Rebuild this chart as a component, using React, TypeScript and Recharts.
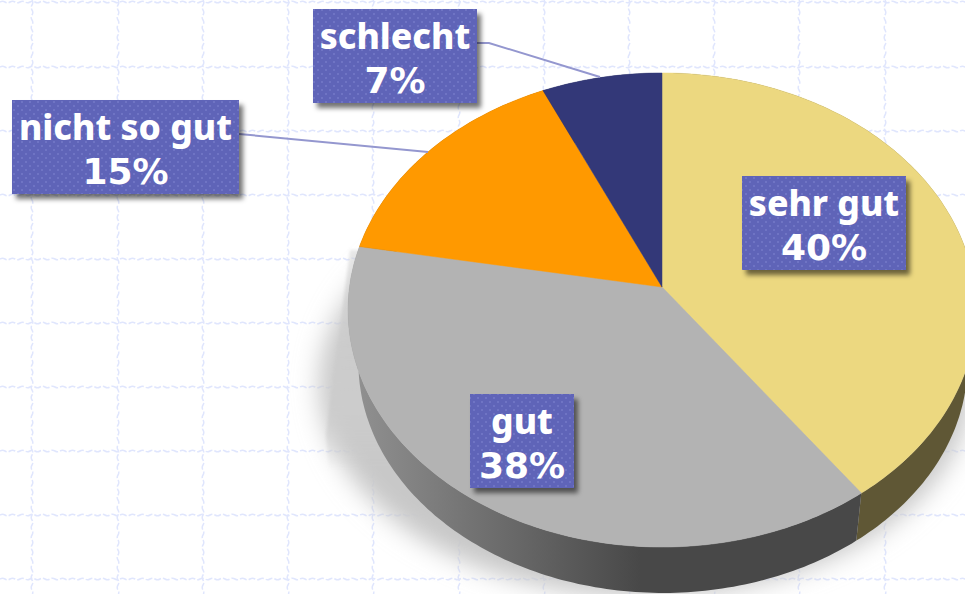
import React from 'react';
import { PieChart, Pie } from 'recharts';

const categories = ['sehr gut', 'gut', 'nicht so gut', 'schlecht'];
const values = [40, 37.8, 15.4, 6.8];
const topColors = ['#ECD880', '#B3B3B3', '#FF9900', '#333878'];
const wallColors = ['#5F5735', 'url(#greyWall)', '#8a5300', '#1c1f44'];

// label boxes [x, y, w, h], in the same order as the categories
const labelBoxes = [
  [742, 176, 164, 94],
  [470, 394, 104, 94],
  [12, 100, 227, 94],
  [313, 9, 164, 94],
];
const leaderLines: Record<number, string> = {
  2: '239,134 428,152',
  3: '477,43 489,43 600,77',
};

const gridX = [32, 118, 203, 288, 373, 459, 544, 629, 714, 799, 885];
const gridY = [2, 67, 131, 195, 259, 323, 387, 451, 515, 579];

const chartData = categories.map((name, i) => ({ name, value: values[i] }));

// the pie lies tilted: project a point of the circle onto the screen
const tilt = 0.097;
const project = (deg: number, apexX: number, apexY: number, scale: number) => {
  const t = ((90 - deg) * Math.PI) / 180;
  const d = 1 + tilt * Math.cos(t);
  return [apexX + (scale * 312.5 * Math.sin(t)) / d, apexY - (scale * 234.8 * Math.cos(t)) / d];
};

const arcPoints = (start: number, end: number, apexX: number, apexY: number, scale: number) => {
  const n = Math.max(2, Math.ceil(Math.abs(start - end)));
  const pts: number[][] = [];
  for (let i = 0; i <= n; i++) pts.push(project(start + ((end - start) * i) / n, apexX, apexY, scale));
  return pts;
};

const toPath = (pts: number[][]) => 'M' + pts.map((p) => p[0].toFixed(1) + ',' + p[1].toFixed(1)).join('L') + 'Z';

// slightly wavy grid line, the background paper has hand drawn looking rules
const wavy = (len: number) => {
  let d = 'M0,0';
  for (let p = 0; p < len; p += 10) d += 'q2.5,-1.6 5,0q2.5,1.6 5,0';
  return d;
};

const TopFace = (props: any) => {
  const fill = topColors[props.index];
  const pts = [[662, 287], ...arcPoints(props.startAngle, props.endAngle, 662, 287, 1)];
  return <path d={toPath(pts)} fill={fill} stroke={fill} strokeWidth={0.5} />;
};

const WallFace = (props: any) => {
  const top = arcPoints(props.startAngle, props.endAngle, 662, 287, 1);
  const bottom = arcPoints(props.startAngle, props.endAngle, 663, 340.7, 0.97).reverse();
  return <path d={toPath([...top, ...bottom])} fill={wallColors[props.index]} />;
};

const nameFont = { fontFamily: "'Noto Sans'", fontWeight: 800, fontSize: 35.5, fill: '#fff' };
const percentFont = { fontFamily: "'DejaVu Sans'", fontWeight: 700, fontSize: 36, fill: '#fff' };

const SliceLabel = (props: any) => {
  const i = props.index;
  const [x, y, w, h] = labelBoxes[i];
  const mid = x + w / 2;
  return (
    <g>
      {leaderLines[i] && <polyline points={leaderLines[i]} fill="none" stroke="#9497CF" strokeWidth={2} />}
      <rect x={x} y={y} width={w} height={h} fill="#000" fillOpacity={0.55} filter="url(#boxShadow)" />
      <rect x={x} y={y} width={w} height={h} fill="url(#dots)" />
      <text x={mid} y={y + 40} textAnchor="middle" {...nameFont}>
        {categories[i]}
      </text>
      <text x={mid} y={y + 84} textAnchor="middle" {...percentFont}>
        {Math.round(values[i])}%
      </text>
    </g>
  );
};

function Background() {
  const line = wavy(970);
  return (
    <svg width={965} height={594} style={{ position: 'absolute', left: 0, top: 0 }}>
      <g stroke="#E0E6FD" strokeWidth={1.5} strokeDasharray="7 2" fill="none">
        {gridX.map((x) => (
          <path key={x} d={line} transform={`translate(${x},0) rotate(90)`} />
        ))}
        {gridY.map((y) => (
          <path key={y} d={line} transform={`translate(0,${y})`} />
        ))}
      </g>
    </svg>
  );
}

export default function App() {
  return (
    <div style={{ position: 'absolute', left: 0, top: 0, width: 965, height: 594, overflow: 'hidden', background: '#fff' }}>
      <Background />
      <div style={{ position: 'absolute', left: 0, top: 0 }}>
        <PieChart width={965} height={594} margin={{ top: 0, right: 0, bottom: 0, left: 0 }}>
          <defs>
            <linearGradient id="greyWall" gradientUnits="userSpaceOnUse" x1={350} y1={0} x2={640} y2={0}>
              <stop offset="0" stopColor="#929292" />
              <stop offset="1" stopColor="#484848" />
            </linearGradient>
            <linearGradient id="shadowEdge" gradientUnits="userSpaceOnUse" x1={0} y1={250} x2={0} y2={470}>
              <stop offset="0" stopColor="#CCCCCC" stopOpacity={0.45} />
              <stop offset="0.7" stopColor="#CCCCCC" stopOpacity={1} />
              <stop offset="1" stopColor="#CCCCCC" stopOpacity={0} />
            </linearGradient>
            <pattern id="dots" width={8} height={8} patternUnits="userSpaceOnUse">
              <rect width={8} height={8} fill="#5F64B8" />
              <rect x={1} y={1} width={2} height={2} fill="#6F74C4" />
              <rect x={5} y={5} width={2} height={2} fill="#6F74C4" />
            </pattern>
            <filter id="boxShadow" x="-20%" y="-20%" width="140%" height="140%">
              <feOffset dx={4} dy={5} />
              <feGaussianBlur stdDeviation={2.5} />
            </filter>
            <filter id="pieShadow" x="-20%" y="-20%" width="140%" height="140%">
              <feGaussianBlur stdDeviation={12} />
            </filter>
            <filter id="edgeSoft" x="-20%" y="-20%" width="140%" height="140%">
              <feGaussianBlur stdDeviation={1.5} />
            </filter>
          </defs>
          <ellipse cx={645} cy={385} rx={326} ry={212} fill="#C8C8C8" filter="url(#pieShadow)" />
          <polygon points="350,250 326,435 330,480 500,480 500,250" fill="url(#shadowEdge)" filter="url(#edgeSoft)" />
          <Pie
            data={chartData}
            dataKey="value"
            nameKey="name"
            cx={662}
            cy={287}
            outerRadius={200}
            startAngle={90}
            endAngle={-270}
            stroke="none"
            shape={WallFace}
            label={false}
            labelLine={false}
            isAnimationActive={false}
          />
          <Pie
            data={chartData}
            dataKey="value"
            nameKey="name"
            cx={662}
            cy={287}
            outerRadius={200}
            startAngle={90}
            endAngle={-270}
            stroke="none"
            shape={TopFace}
            label={SliceLabel}
            labelLine={false}
            isAnimationActive={false}
          />
        </PieChart>
      </div>
    </div>
  );
}
